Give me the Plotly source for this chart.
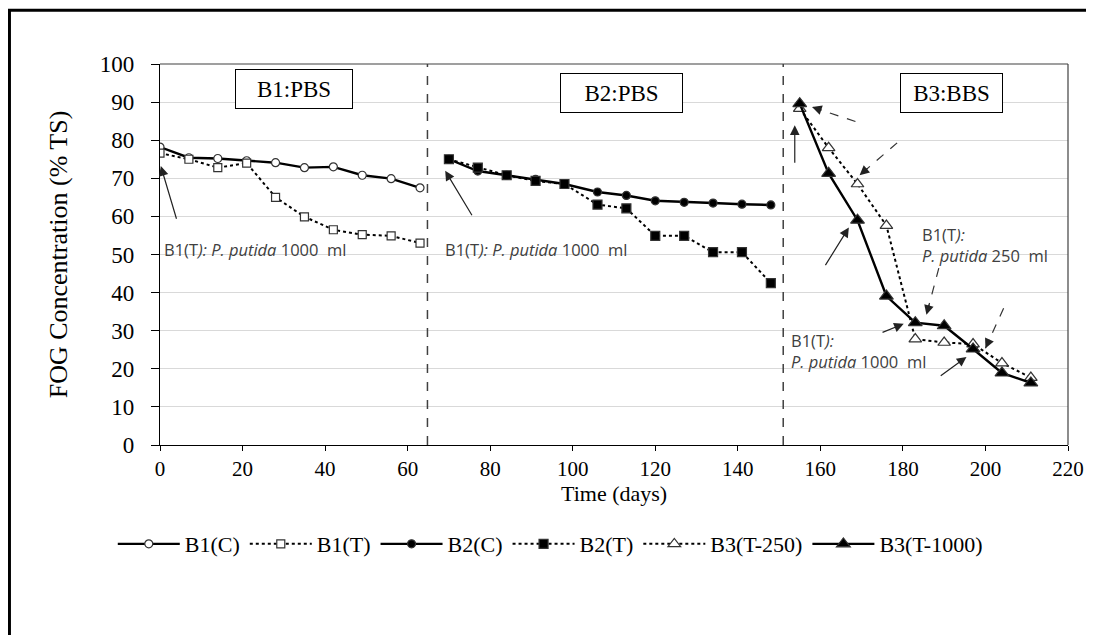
import plotly.graph_objects as go

# ---------------- data ----------------
b1_days = [0, 7, 14, 21, 28, 35, 42, 49, 56, 63]
b1_c = [78.2, 75.4, 75.2, 74.6, 74.1, 72.8, 73.0, 70.8, 69.9, 67.5]
b1_t = [76.6, 75.0, 72.8, 74.0, 65.0, 59.9, 56.5, 55.2, 54.9, 53.0]

b2_days = [70, 77, 84, 91, 98, 106, 113, 120, 127, 134, 141, 148]
b2_c = [75.0, 71.9, 70.8, 69.7, 68.5, 66.4, 65.5, 64.1, 63.7, 63.5, 63.2, 63.0]
b2_t = [75.0, 72.8, 70.8, 69.3, 68.5, 63.1, 62.1, 54.9, 54.9, 50.6, 50.6, 42.5]

b3_days = [155, 162, 169, 176, 183, 190, 197, 204, 211]
b3_t250 = [88.3, 78.0, 68.5, 57.6, 27.8, 26.9, 26.5, 21.5, 17.7]
b3_t1000 = [89.6, 71.3, 59.0, 39.1, 32.1, 31.3, 25.2, 18.9, 16.3]

phase_bounds = [64.8, 151]
x_ticks = list(range(0, 221, 20))
y_ticks = list(range(0, 101, 10))

phase_labels = ["B1:PBS", "B2:PBS", "B3:BBS"]
phase_label_x = [32.5, 111.9, 191.7]
phase_label_y = [93.4, 92.5, 92.5]
phase_box_w = [108, 113, 93]

x_title = "Time (days)"
y_title = "FOG Concentration (% TS)"

SERIF = "Liberation Serif, Times New Roman, serif"
SANS = "Open Sans, Lato, sans-serif"

fig = go.Figure()

def add(name, x, y, dash, symbol, size, fill, lw):
    fig.add_trace(go.Scatter(
        x=x, y=y, name=name, mode="lines+markers",
        line=dict(color="black", width=lw, dash=dash),
        marker=dict(symbol=symbol, size=size, color=fill,
                    line=dict(color="#333333", width=1.2)),
    ))

add("B1(C)", b1_days, b1_c, "solid", "circle", 8, "white", 2.4)
add("B1(T)", b1_days, b1_t, "dot", "square", 8, "white", 2)
add("B2(C)", b2_days, b2_c, "solid", "circle", 8, "black", 2.4)
add("B2(T)", b2_days, b2_t, "dot", "square", 9, "black", 2)
add("B3(T-250)", b3_days, b3_t250, "dot", "triangle-up", 11, "white", 2)
add("B3(T-1000)", b3_days, b3_t1000, "solid", "triangle-up", 12, "black", 2.4)

shapes = []
for xb in phase_bounds:
    shapes.append(dict(type="line", xref="x", yref="y", x0=xb, x1=xb, y0=0, y1=100,
                       line=dict(color="#404040", width=1.5, dash="dash")))
# outer frame
shapes.append(dict(type="rect", xref="paper", yref="paper",
                   x0=-0.1658, x1=1.05, y0=-0.55, y1=1.1414,
                   line=dict(color="black", width=3)))

annotations = []
for lab, lx, ly, bw in zip(phase_labels, phase_label_x, phase_label_y, phase_box_w):
    annotations.append(dict(x=lx, y=ly, xref="x", yref="y", text=lab, showarrow=False,
                            font=dict(family=SERIF, size=23, color="black"),
                            bordercolor="black", borderwidth=1, borderpad=4,
                            bgcolor="white", width=bw, height=30))

# x axis title
annotations.append(dict(x=0.5, y=-0.127, xref="paper", yref="paper", text=x_title,
                        showarrow=False, xanchor="center", yanchor="middle",
                        font=dict(family=SERIF, size=22, color="black")))

txt1000 = "B1(T<i>): P. putida</i> 1000  ml"
annfont = dict(family=SANS, size=16.5, color="#404040")
annotations += [
    dict(x=0.5, y=51.4, xref="x", yref="y", text=txt1000, showarrow=False, xanchor="left",
         font=annfont),
    dict(x=68.5, y=51.4, xref="x", yref="y", text=txt1000, showarrow=False, xanchor="left",
         font=annfont),
    dict(x=184.2, y=52.5, xref="x", yref="y", text="B1(T<i>):</i><br><i>P. putida</i> 250  ml",
         showarrow=False, xanchor="left", align="left", font=annfont),
    dict(x=152.3, y=24.7, xref="x", yref="y", text="B1(T<i>):</i><br><i>P. putida</i> 1000  ml",
         showarrow=False, xanchor="left", align="left", font=annfont),
]

solid_arrows = [  # (tail_x, tail_y, head_x, head_y)
    (4.1, 59.0, 0.2, 73.2),
    (75.8, 59.9, 69.1, 72.0),
    (153.8, 73.7, 153.8, 83.9),
    (161.0, 46.8, 166.9, 57.1),
    (174.7, 29.4, 180.2, 31.8),
    (188.8, 17.9, 195.4, 23.1),
]
for tx, ty, hx, hy in solid_arrows:
    annotations.append(dict(x=hx, y=hy, ax=tx, ay=ty, xref="x", yref="y", axref="x", ayref="y",
                            text="", showarrow=True, arrowhead=2, arrowsize=1.6,
                            arrowwidth=1.2, arrowcolor="#222222", standoff=0))

dashed_arrows = [
    (168.5, 84.9, 158.0, 88.7),
    (178.6, 79.3, 169.5, 70.8),
    (188.7, 46.4, 185.7, 34.2),
    (204.4, 35.9, 200.0, 25.4),
]
for tx, ty, hx, hy in dashed_arrows:
    shapes.append(dict(type="line", xref="x", yref="y", x0=tx, y0=ty, x1=hx, y1=hy,
                       line=dict(color="#333333", width=1.2, dash="dash")))
    f = 0.25
    annotations.append(dict(x=hx, y=hy, ax=hx + (tx - hx) * f, ay=hy + (ty - hy) * f,
                            xref="x", yref="y", axref="x", ayref="y",
                            text="", showarrow=True, arrowhead=2, arrowsize=1.6,
                            arrowwidth=1.2, arrowcolor="#222222", standoff=0))

# figure is placed at (8, 8) in the page by the default body margin
fig.update_layout(
    width=1078, height=627,
    margin=dict(l=152, r=18, t=56, b=189.5),
    paper_bgcolor="white", plot_bgcolor="white",
    font=dict(family=SERIF, size=22, color="black"),
    shapes=shapes, annotations=annotations,
    showlegend=True,
    legend=dict(orientation="h", x=-0.052, xanchor="left", y=-0.26, yanchor="middle",
                font=dict(family=SERIF, size=22, color="black"), itemwidth=62,
                bgcolor="rgba(0,0,0,0)"),
    xaxis=dict(range=[0, 220], tickvals=x_ticks, showgrid=False, zeroline=False,
               automargin=False,
               showline=True, linecolor="black", linewidth=1.2, mirror=False,
               ticks="outside", ticklen=5, tickcolor="black",
               tickfont=dict(family=SERIF, size=21)),
    yaxis=dict(range=[0, 100], tickvals=y_ticks, showgrid=True, gridcolor="#d9d9d9",
               automargin=False,
               gridwidth=1, zeroline=False, showline=True, linecolor="black", linewidth=1.2,
               ticks="outside", ticklen=8, tickcolor="black", ticklabelstandoff=12,
               tickfont=dict(family=SERIF, size=23),
               title=dict(text=y_title, font=dict(family=SERIF, size=26), standoff=24)),
)
# top and right frame of plot area
fig.add_shape(type="line", xref="paper", yref="paper", x0=0, x1=1, y0=1, y1=1,
              line=dict(color="#404040", width=1.2))
fig.add_shape(type="line", xref="paper", yref="paper", x0=1, x1=1, y0=0, y1=1,
              line=dict(color="#404040", width=1.2))

fig.write_html("out.html")
